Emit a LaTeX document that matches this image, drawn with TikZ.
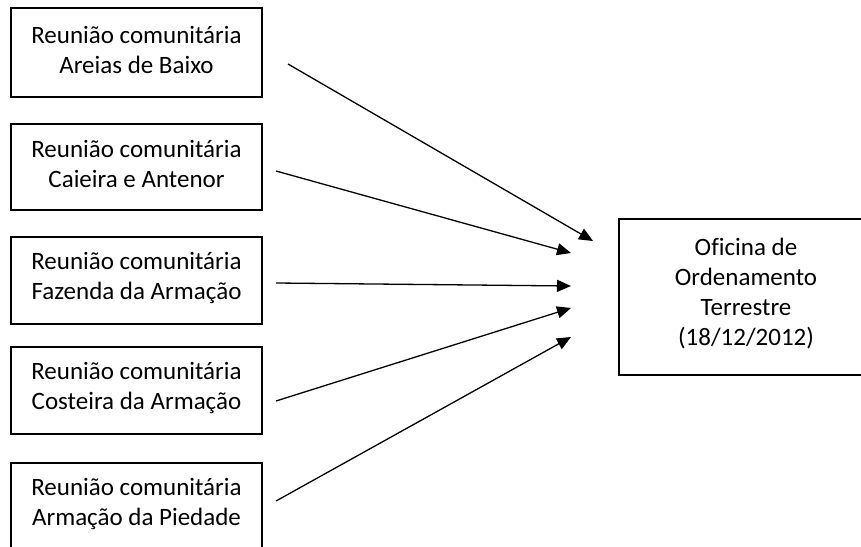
\documentclass[tikz,border=0pt]{standalone}
\usepackage{fontspec}
\setmainfont{Carlito}[Ligatures=NoCommon]
\usetikzlibrary{arrows.meta}
\begin{document}
\begin{tikzpicture}[x=1pt,y=-1pt,
  box/.style={draw, line width=1.2pt, minimum width=251pt, minimum height=87pt, inner sep=0pt},
  lbl/.style={align=center, inner sep=0pt, yshift=3pt, font=\fontsize{25}{30}\selectfont},
  conn/.style={line width=1.3pt, -{Triangle[length=14pt,width=12pt]}}]
\useasboundingbox (0,0) rectangle (861,546);
\clip (0,0) rectangle (861,546);
\node[box, minimum height=89pt, label={[lbl]center:Reunião comunitária\\Areias de Baixo}] (b1) at (136.5,52.5) {};
\node[box, minimum height=86pt, label={[lbl]center:Reunião comunitária\\Caieira e Antenor}] (b2) at (136.5,167) {};
\node[box, label={[lbl]center:Reunião comunitária\\Fazenda da Armação}] (b3) at (136.5,280.5) {};
\node[box, label={[lbl]center:Reunião comunitária\\Costeira da Armação}] (b4) at (136.5,390.5) {};
\node[box, label={[lbl]center:Reunião comunitária\\Armação da Piedade}] (b5) at (136.5,506.5) {};
\node[box, minimum width=254pt, minimum height=156pt, label={[lbl]center:Oficina de\\Ordenamento\\Terrestre\\(18/12/2012)}] (of) at (746,297) {};
\coordinate (s1) at (288,64);  \coordinate (t1) at (593,241);
\coordinate (s2) at (276,171); \coordinate (t2) at (571,253);
\coordinate (s3) at (276,283); \coordinate (t3) at (571,286);
\coordinate (s4) at (276,401); \coordinate (t4) at (571,308);
\coordinate (s5) at (276,501); \coordinate (t5) at (571,337);
\draw[conn] (s1) -- (t1);
\draw[conn] (s2) -- (t2);
\draw[conn] (s3) -- (t3);
\draw[conn] (s4) -- (t4);
\draw[conn] (s5) -- (t5);
\end{tikzpicture}
\end{document}
